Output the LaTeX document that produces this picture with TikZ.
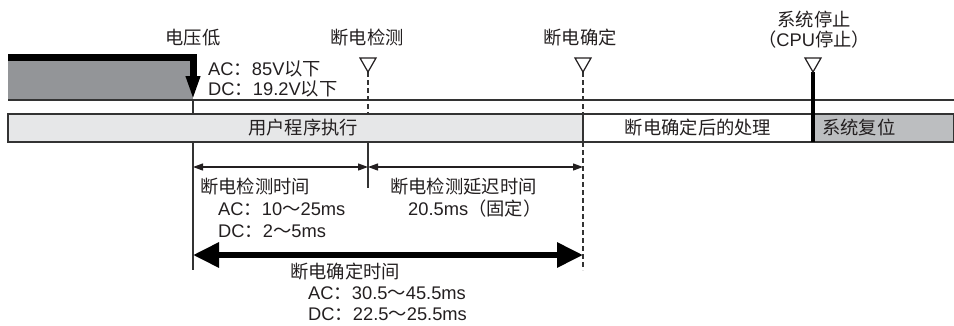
\documentclass[tikz,border=0pt]{standalone}
\usepackage{fontspec}
\setmainfont{Liberation Sans}
\newfontfamily\cjk{Noto Sans CJK SC}
\usetikzlibrary{arrows.meta}
\newcommand\zh[1]{{\cjk #1}}
\definecolor{txtc}{HTML}{231F20}
\definecolor{dgray}{HTML}{939598}
\definecolor{lgray}{HTML}{E6E7E8}
\definecolor{mgray}{HTML}{BCBEC0}
\definecolor{linec}{HTML}{333333}
\begin{document}
\begin{tikzpicture}[x=1pt,y=-1pt,
  font=\fontsize{18.3}{21}\selectfont,
  lbl/.style={inner sep=0pt, text=txtc},
  lblw/.style={inner sep=0pt, text=txtc, anchor=base west},
  thin/.style={draw=linec, line width=1.3pt},
  dashline/.style={draw=linec, line width=1.3pt, dash pattern=on 5pt off 3pt},
  tri/.style={draw=txtc, line width=1.2pt, fill=white, line join=miter},
  dimarrow/.style={draw=txtc, line width=1.2pt, {Triangle[length=10pt,width=7pt]}-{Triangle[length=10pt,width=7pt]}},
  bigarrow/.style={draw=black, line width=6pt, {Triangle[length=26pt,width=24pt]}-{Triangle[length=26pt,width=24pt]}}]
\useasboundingbox (0,0) rectangle (954,325);

% key coordinates
\coordinate (L100) at (8,100);
\coordinate (R100) at (954,100);
\coordinate (L114) at (8,114);
\coordinate (R114) at (954,114);
\coordinate (vA0) at (193,100);
\coordinate (vA1) at (193,270);
\coordinate (vB0) at (368,72);
\coordinate (vB1) at (368,114);
\coordinate (vB2) at (368,142);
\coordinate (vB3) at (368,188);
\coordinate (vC0) at (583,72);
\coordinate (vC1) at (583,114);
\coordinate (vC2) at (583,142);
\coordinate (vC3) at (583,270);
\coordinate (vD0) at (813,72);
\coordinate (vD1) at (813,142);
\coordinate (tB) at (368,58);
\coordinate (tC) at (583,58);
\coordinate (tD) at (813,58);
\coordinate (pw0) at (8,57);
\coordinate (pw1) at (193,57);
\coordinate (pw2) at (193,100);

% power-on area
\fill[dgray] (8,57) rectangle (193,100);

% horizontal lines
\draw[thin] (L100) -- (R100);
\draw[thin] (L114) -- (R114);

% vertical guide lines
\draw[thin] (vA0) -- (vA1);
\draw[dashline] (vB0) -- (vB1);
\draw[dashline] (vC0) -- (vC1);
\draw[dashline] (vC2) -- (vC3);
\draw[thin] (vB2) -- (vB3);

% band
\draw[thin, fill=lgray] (8,114) rectangle (583,142);
\draw[thin, fill=white] (583,114) rectangle (813,142);
\draw[thin, fill=mgray] (813,114) rectangle (954,142);

% power falling line with arrow
\draw[line width=7pt, line join=miter, -{Triangle[length=24pt,width=13pt]}] (pw0) -- (pw1) -- (pw2);

% system stop line
\draw[line width=3.5pt] (vD0) -- (vD1);

% open triangles
\draw[tri] (tB) ++(-8,0) -- ++(16,0) -- ++(-8,14) -- cycle;
\draw[tri] (tC) ++(-8,0) -- ++(16,0) -- ++(-8,14) -- cycle;
\draw[tri] (tD) ++(-8,0) -- ++(16,0) -- ++(-8,14) -- cycle;

% dimension arrows
\coordinate (a1) at (193,167);
\coordinate (a2) at (368,167);
\coordinate (a3) at (583,167);
\draw[dimarrow] (a1) -- (a2);
\draw[dimarrow] (a2) -- (a3);
\coordinate (b1) at (193,255);
\coordinate (b2) at (583,255);
\draw[bigarrow] (b1) -- (b2);

% top labels
\node[lbl] (lowv) at (193,38) {\zh{电压低}};
\node[lbl] (det) at (367,38) {\zh{断电检测}};
\node[lbl] (conf) at (580,38) {\zh{断电确定}};
\node[lbl] (stop1) at (814,19) {\zh{系统停止}};
\node[lbl] (stop2) at (814,40) {\zh{（}CPU\zh{停止）}};
\node[lblw] (ac1) at (208,75) {AC\zh{：}85V\zh{以下}};
\node[lblw] (dc1) at (208,95) {DC\zh{：}19.2V\zh{以下}};

% band labels
\node[lbl] (user) at (303,128) {\zh{用户程序执行}};
\node[lbl] (post) at (698,128) {\zh{断电确定后的处理}};
\node[lblw] (reset) at (822,134) {\zh{系统复位}};

% lower labels
\node[lblw] (t1) at (200,193) {\zh{断电检测时间}};
\node[lblw] (t1a) at (218,215) {AC\zh{：}10\zh{～}25ms};
\node[lblw] (t1b) at (218,237) {DC\zh{：}2\zh{～}5ms};
\node[lblw] (t2) at (390,193) {\zh{断电检测延迟时间}};
\node[lblw] (t2a) at (408,215) {20.5ms\zh{（固定）}};
\node[lblw] (t3) at (290,278) {\zh{断电确定时间}};
\node[lblw] (t3a) at (308,299) {AC\zh{：}30.5\zh{～}45.5ms};
\node[lblw] (t3b) at (308,320) {DC\zh{：}22.5\zh{～}25.5ms};
\end{tikzpicture}
\end{document}
